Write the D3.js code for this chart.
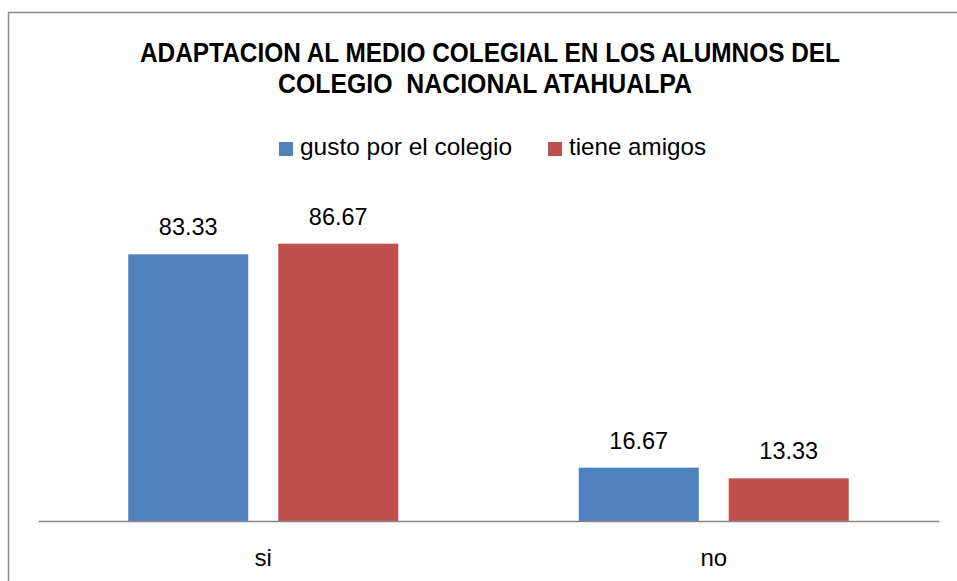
<!DOCTYPE html>
<html>
<head>
<meta charset="utf-8">
<script src="https://cdn.jsdelivr.net/npm/d3@7"></script>
<style>
  body { margin: 0; background: #fff; }
  text { font-family: "Liberation Sans", Arial, sans-serif; fill: #000; }
</style>
</head>
<body>
<script>
// data
var categories = ['si', 'no'];
var series = ['gusto por el colegio', 'tiene amigos'];
var gustoValues = [83.33, 16.67];
var amigosValues = [86.67, 13.33];
var titleLines = ['ADAPTACION AL MEDIO COLEGIAL EN LOS ALUMNOS DEL', 'COLEGIO  NACIONAL ATAHUALPA'];

var colors = ['#4F81BD', '#C0504D'];

var width = 957, height = 581;

var svg = d3.select('body').append('svg')
            .attr('width', width)
            .attr('height', height);

// chart frame (runs off the right and bottom edge)
svg.append('rect')
   .attr('x', 8.5)
   .attr('y', 12.5)
   .attr('width', 1000)
   .attr('height', 700)
   .attr('fill', 'none')
   .attr('stroke', '#8c8c8c')
   .attr('stroke-width', 1.5);

// title
svg.selectAll('.title')
   .data(titleLines)
   .enter()
   .append('text')
   .attr('class', 'title')
   .attr('x', function(d, i) { return i == 0 ? 490 : 485; })
   .attr('y', function(d, i) { return 62 + i * 31; })
   .attr('text-anchor', 'middle')
   .attr('font-size', 27)
   .attr('font-weight', 'bold')
   .attr('textLength', function(d, i) { return i == 0 ? 700 : 414; })
   .attr('lengthAdjust', 'spacingAndGlyphs')
   .style('white-space', 'pre')
   .text(function(d) { return d; });

// legend
var legendX = [279, 548];
var legend = svg.selectAll('.legend')
                .data(series)
                .enter()
                .append('g')
                .attr('class', 'legend')
                .attr('transform', function(d, i) { return 'translate(' + legendX[i] + ',142)'; });
legend.append('rect')
      .attr('width', 14)
      .attr('height', 14)
      .attr('fill', function(d, i) { return colors[i]; });
legend.append('text')
      .attr('x', 21)
      .attr('y', 13)
      .attr('font-size', 24)
      .attr('textLength', function(d, i) { return i == 0 ? 212 : 137; })
      .attr('lengthAdjust', 'spacingAndGlyphs')
      .text(function(d) { return d; });

// scales
var x0 = d3.scaleBand().domain(categories).range([38, 939]);
var groupWidth = 270;
var x1 = d3.scaleBand().domain(series).range([0, groupWidth]).paddingInner(0.2);
var y = d3.scaleLinear().domain([0, 100]).range([521, 201]);

var rows = categories.map(function(c, i) {
  return { cat: c, values: [gustoValues[i], amigosValues[i]] };
});

var groups = svg.selectAll('.group')
                .data(rows)
                .enter()
                .append('g')
                .attr('class', 'group')
                .attr('transform', function(d) {
                  return 'translate(' + (x0(d.cat) + (x0.bandwidth() - groupWidth) / 2) + ',0)';
                });

var bars = groups.selectAll('.bar')
                 .data(function(d) {
                   return d.values.map(function(v, i) { return { s: series[i], v: v, i: i }; });
                 })
                 .enter();

bars.append('rect')
    .attr('class', 'bar')
    .attr('x', function(d) { return x1(d.s); })
    .attr('y', function(d) { return y(d.v); })
    .attr('width', x1.bandwidth())
    .attr('height', function(d) { return y(0) - y(d.v); })
    .attr('fill', function(d) { return colors[d.i]; });

// data labels
bars.append('text')
    .attr('x', function(d) { return x1(d.s) + x1.bandwidth() / 2; })
    .attr('y', function(d) { return y(d.v) - 19; })
    .attr('text-anchor', 'middle')
    .attr('font-size', 23.5)
    .text(function(d) { return d.v.toFixed(2); });

// x axis: baseline and category labels
var xAxis = d3.axisBottom(x0).tickSize(0).tickPadding(28);
var axisG = svg.append('g')
               .attr('transform', 'translate(0,' + y(0) + ')')
               .call(xAxis);
axisG.select('.domain')
     .attr('stroke', '#868686')
     .attr('stroke-width', 1.5);
axisG.selectAll('text')
     .attr('font-size', 24)
     .attr('font-family', '"Liberation Sans", Arial, sans-serif')
     .attr('fill', '#000');
</script>
</body>
</html>
